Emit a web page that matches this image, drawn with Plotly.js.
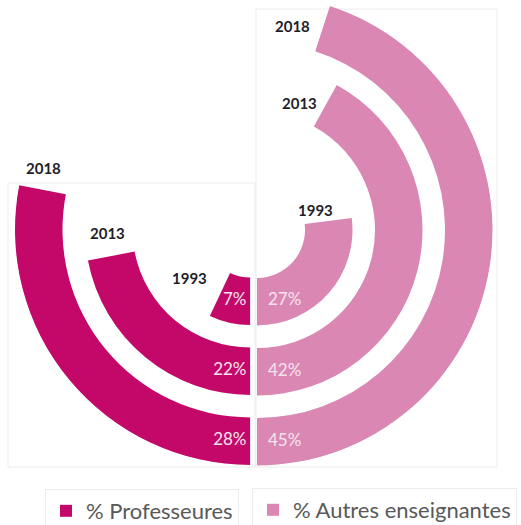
<!DOCTYPE html>
<html>
<head>
<meta charset="utf-8">
<script src="https://cdn.plot.ly/plotly-3.0.1.min.js"></script>
<style>
  html, body { margin: 0; padding: 0; background: #ffffff; }
  #chart { width: 521px; height: 525px; }
</style>
</head>
<body>
<div id="chart"></div>
<script>
// ---------- data ----------
const years = ['1993', '2013', '2018'];
const professeures = [7, 22, 28];           // % Professeures
const autres = [27, 42, 45];                // % Autres enseignantes
const seriesNames = ['% Professeures', '% Autres enseignantes'];

// ---------- style / geometry ----------
const W = 521, H = 525;
const COLORS = ['#C3086A', '#DA88B3'];
const LABEL_COLOR = '#F7E3EE';
const YEAR_COLOR = '#1E1E2A';
const RING_INNER0 = 48, RING_STEP = 70, RING_THICK = 47.5, RMAX = 236;
const LEFT = { cx: 250.5, cy: 229.5, sector: [165, 270] };
const RIGHT = { cx: 257, cy: 230, sector: [-90, 72] };
const LEFT_LABEL_GAP = 4, RIGHT_LABEL_GAP = 11;
// year label positions (px, centre of text)
const YEAR_POS_LEFT = [[189, 277.5], [107.5, 232.7], [43.5, 168]];
const YEAR_POS_RIGHT = [[315.5, 210], [299, 103.3], [292, 26.3]];

const toDeg = p => p * 3.6;
const ringBase = i => RING_INNER0 + RING_STEP * i;
const ringMid = i => ringBase(i) + RING_THICK / 2;

function mod(a, n) { return ((a % n) + n) % n; }
function d2r(d) { return d * Math.PI / 180; }
// same bbox as Plotly's polar sector fit
function sectorBBox(sector) {
  const arc = sector[1] - sector[0];
  const a0 = mod(sector[0], 360), a1 = a0 + arc;
  const ax0 = Math.cos(d2r(a0)), ay0 = Math.sin(d2r(a0));
  const ax1 = Math.cos(d2r(a1)), ay1 = Math.sin(d2r(a1));
  let x0, y0, x1, y1;
  if ((a0 <= 90 && a1 >= 90) || (a0 > 90 && a1 >= 450)) y1 = 1;
  else if (ay0 <= 0 && ay1 <= 0) y1 = 0; else y1 = Math.max(ay0, ay1);
  if ((a0 <= 180 && a1 >= 180) || (a0 > 180 && a1 >= 540)) x0 = -1;
  else if (ax0 >= 0 && ax1 >= 0) x0 = 0; else x0 = Math.min(ax0, ax1);
  if ((a0 <= 270 && a1 >= 270) || (a0 > 270 && a1 >= 630)) y0 = -1;
  else if (ay0 >= 0 && ay1 >= 0) y0 = 0; else y0 = Math.min(ay0, ay1);
  if (a1 >= 360) x1 = 1;
  else if (ax0 <= 0 && ax1 <= 0) x1 = 0; else x1 = Math.max(ax0, ax1);
  return [x0, y0, x1, y1];
}
function domainFor(g) {
  const b = sectorBBox(g.sector);
  const xpx = [g.cx + RMAX * b[0], g.cx + RMAX * b[2]];
  const ypx = [g.cy - RMAX * b[3], g.cy - RMAX * b[1]];
  return { x: [xpx[0] / W, xpx[1] / W], y: [(H - ypx[1]) / H, (H - ypx[0]) / H] };
}

function polarLayout(g, direction) {
  return {
    domain: domainFor(g),
    sector: g.sector,
    bgcolor: 'rgba(0,0,0,0)',
    radialaxis: { visible: false, range: [0, RMAX], showgrid: false },
    angularaxis: { visible: false, rotation: 270, direction: direction, showgrid: false }
  };
}

const traces = [
  {
    type: 'barpolar', subplot: 'polar', name: seriesNames[0], legend: 'legend',
    theta: professeures.map(p => toDeg(p) / 2),
    width: professeures.map(p => toDeg(p)),
    r: years.map(() => RING_THICK),
    base: years.map((y, i) => ringBase(i)),
    marker: { color: COLORS[0], line: { width: 0 } },
    hoverinfo: 'skip'
  },
  {
    type: 'barpolar', subplot: 'polar2', name: seriesNames[1], legend: 'legend2',
    theta: autres.map(p => toDeg(p) / 2),
    width: autres.map(p => toDeg(p)),
    r: years.map(() => RING_THICK),
    base: years.map((y, i) => ringBase(i)),
    marker: { color: COLORS[1], line: { width: 0 } },
    hoverinfo: 'skip'
  },
  {
    type: 'scatterpolar', subplot: 'polar', mode: 'text', showlegend: false,
    r: years.map((y, i) => ringMid(i)),
    theta: years.map((y, i) => Math.asin(LEFT_LABEL_GAP / ringMid(i)) * 180 / Math.PI),
    text: professeures.map(p => p + '%'),
    textposition: 'middle left',
    textfont: { family: 'Lato', size: 17, color: LABEL_COLOR },
    cliponaxis: false, hoverinfo: 'skip'
  },
  {
    type: 'scatterpolar', subplot: 'polar2', mode: 'text', showlegend: false,
    r: years.map((y, i) => ringMid(i)),
    theta: years.map((y, i) => Math.asin(RIGHT_LABEL_GAP / ringMid(i)) * 180 / Math.PI),
    text: autres.map(p => p + '%'),
    textposition: 'middle right',
    textfont: { family: 'Lato', size: 17, color: LABEL_COLOR },
    cliponaxis: false, hoverinfo: 'skip'
  }
];

const annotations = [];
years.forEach((y, i) => {
  [YEAR_POS_LEFT[i], YEAR_POS_RIGHT[i]].forEach(pos => {
    annotations.push({
      xref: 'paper', yref: 'paper', x: pos[0] / W, y: 1 - pos[1] / H,
      xanchor: 'center', yanchor: 'middle', showarrow: false, text: y,
      font: { family: 'Lato', size: 15, color: YEAR_COLOR, weight: 'bold' }
    });
  });
});

const frameColor = '#ECECEC';
const shapes = [
  { type: 'rect', xref: 'paper', yref: 'paper', x0: 8 / W, x1: 255 / W, y0: 1 - 467 / H, y1: 1 - 183 / H,
    line: { color: frameColor, width: 1 }, layer: 'below' },
  { type: 'rect', xref: 'paper', yref: 'paper', x0: 256 / W, x1: 497 / W, y0: 1 - 467 / H, y1: 1 - 9 / H,
    line: { color: frameColor, width: 1 }, layer: 'below' }
];

const legendBase = {
  orientation: 'h', yanchor: 'top', xanchor: 'left',
  bordercolor: frameColor, borderwidth: 1, bgcolor: 'rgba(0,0,0,0)',
  font: { family: 'Lato', size: 22, color: '#595959' }
};

const layout = {
  width: W, height: H,
  margin: { l: 0, r: 0, t: 0, b: 0, autoexpand: false },
  paper_bgcolor: '#ffffff', plot_bgcolor: '#ffffff',
  showlegend: true,
  polar: polarLayout(LEFT, 'clockwise'),
  polar2: polarLayout(RIGHT, 'counterclockwise'),
  legend: Object.assign({}, legendBase, { x: 45 / W, y: 1 - 489 / H }),
  legend2: Object.assign({}, legendBase, { x: 252 / W, y: 1 - 488 / H }),
  annotations: annotations,
  shapes: shapes
};

Plotly.newPlot('chart', traces, layout, { displayModeBar: false, staticPlot: true });
</script>
</body>
</html>
